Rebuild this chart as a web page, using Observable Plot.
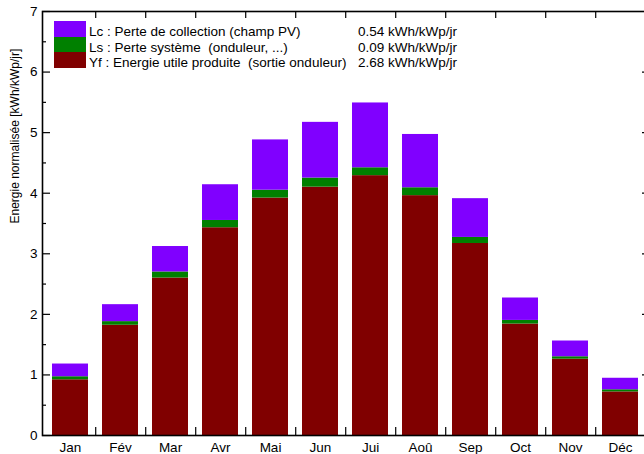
<!DOCTYPE html>
<html><head><meta charset="utf-8">
<script src="https://cdn.jsdelivr.net/npm/d3@7"></script>
<script src="https://cdn.jsdelivr.net/npm/@observablehq/plot@0.6"></script>
<style>
body{margin:0;background:#fff;overflow:hidden;font-family:"Liberation Sans",Arial,Helvetica,sans-serif;}
#wrap{position:relative;width:644px;height:454px;overflow:hidden;}
#legend{position:absolute;left:54px;top:21px;font-size:13.5px;color:#000;}
.row{height:15.6px;display:flex;align-items:center;white-space:pre;}
.sw{width:32px;height:15.6px;margin-right:3px;flex:none;}
.lab{width:269px;flex:none;transform:translateY(2.5px);}
.val{flex:none;transform:translateY(2.5px);}
</style></head>
<body><div id="wrap"></div>
<script>
const months = ["Jan","Fév","Mar","Avr","Mai","Jun","Jui","Aoû","Sep","Oct","Nov","Déc"];
const yf = [0.92, 1.82, 2.60, 3.43, 3.92, 4.10, 4.29, 3.96, 3.17, 1.84, 1.26, 0.72];
const ls = [0.05, 0.06, 0.10, 0.12, 0.13, 0.15, 0.13, 0.13, 0.10, 0.06, 0.04, 0.035];
const lc = [0.21, 0.28, 0.42, 0.59, 0.83, 0.92, 1.07, 0.88, 0.64, 0.37, 0.26, 0.19];
const series = ["Lc", "Ls", "Yf"];
const seriesColors = ["#8000ff", "#008000", "#800000"];
const legendLabels = ["Lc : Perte de collection (champ PV)", "Ls : Perte système  (onduleur, ...)", "Yf : Energie utile produite  (sortie onduleur)"];
const legendValues = ["0.54 kWh/kWp/jr", "0.09 kWh/kWp/jr", "2.68 kWh/kWp/jr"];
const yMajor = [0, 1, 2, 3, 4, 5, 6, 7];
const yMinor = [0.5, 1.5, 2.5, 3.5, 4.5, 5.5, 6.5];
const yTitle = "Energie normalisée [kWh/kWp/jr]";

const rows = [];
months.forEach((m, i) => {
  rows.push({month: m, comp: "Yf", value: yf[i]});
  rows.push({month: m, comp: "Ls", value: ls[i]});
  rows.push({month: m, comp: "Lc", value: lc[i]});
});

const W = 644, H = 454, mL = 42, mT = 11, mB = 19, mR = -3;
const step = (W - mR - mL) / months.length;

const chart = Plot.plot({
  width: W, height: H,
  marginLeft: mL, marginTop: mT, marginBottom: mB, marginRight: mR,
  style: {fontFamily: "'Liberation Sans', Arial, Helvetica, sans-serif", fontSize: "13.5px", background: "white", color: "black"},
  x: {type: "band", domain: months, paddingInner: 0.286, paddingOuter: 0.143, axis: null, label: null},
  y: {domain: [0, 7], axis: null, label: null},
  color: {domain: series, range: seriesColors},
  marks: [
    Plot.barY(rows, {x: "month", y: "value", fill: "comp"}),
    Plot.axisX({anchor: "bottom", tickSize: 0, tickPadding: 7, label: null}),
    Plot.axisX({anchor: "bottom", tickSize: -8, text: null, label: null, dx: step / 2, strokeWidth: 1.2}),
    Plot.axisX({anchor: "top", tickSize: -6, text: null, label: null, dx: step / 2, strokeWidth: 1.2}),
    Plot.axisY(yMajor, {anchor: "left", tickSize: 0, tickPadding: 5, label: null, tickFormat: d => String(d)}),
    Plot.axisY(yMajor, {anchor: "left", tickSize: -8, text: null, label: null, strokeWidth: 1.2}),
    Plot.axisY(yMinor, {anchor: "left", tickSize: -4, text: null, label: null, strokeWidth: 1.2}),
    Plot.axisY(yMajor, {anchor: "right", tickSize: -6, text: null, label: null, strokeWidth: 1.2}),
    Plot.axisY(yMinor, {anchor: "right", tickSize: -3, text: null, label: null, strokeWidth: 1.2}),
    Plot.frame({stroke: "black", strokeWidth: 1.6}),
    Plot.text([yTitle], {frameAnchor: "left", rotate: -90, dx: -27, fontSize: 12})
  ]
});

const wrap = document.getElementById("wrap");
wrap.appendChild(chart);
const legend = document.createElement("div");
legend.id = "legend";
series.forEach((s, i) => {
  const r = document.createElement("div");
  r.className = "row";
  const sw = document.createElement("div");
  sw.className = "sw";
  sw.style.background = seriesColors[i];
  const lab = document.createElement("span");
  lab.className = "lab";
  lab.textContent = legendLabels[i];
  const val = document.createElement("span");
  val.className = "val";
  val.textContent = legendValues[i];
  r.append(sw, lab, val);
  legend.appendChild(r);
});
wrap.appendChild(legend);
</script>
</body></html>
